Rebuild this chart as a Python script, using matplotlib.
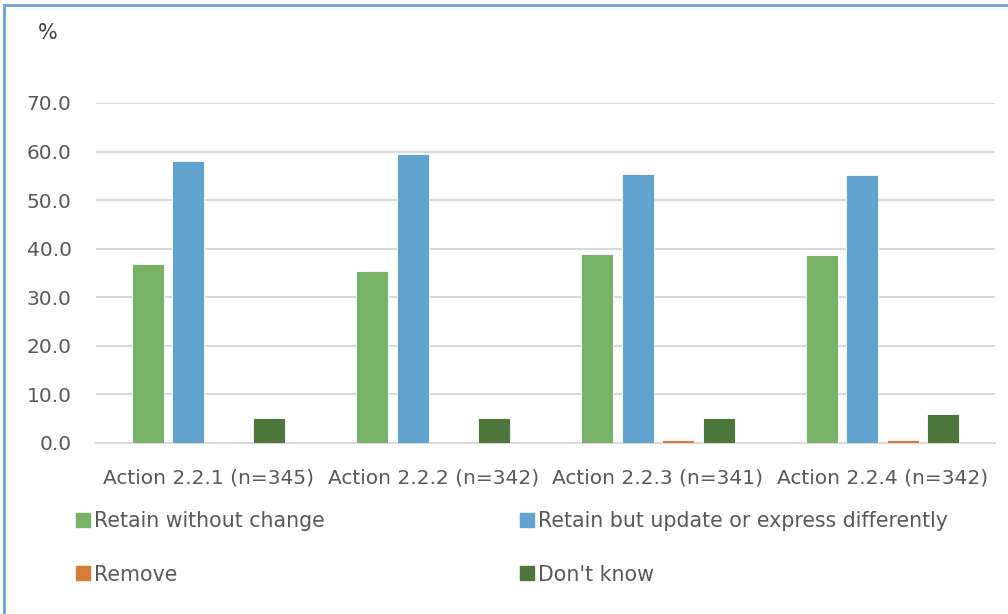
import numpy as np
import matplotlib.pyplot as plt
from matplotlib.patches import Rectangle, Patch

plt.rcParams['font.family'] = ['DejaVu Sans']

categories = ["Action 2.2.1 (n=345)", "Action 2.2.2 (n=342)",
              "Action 2.2.3 (n=341)", "Action 2.2.4 (n=342)"]
retain = [36.9, 35.5, 39.0, 38.7]
update = [58.0, 59.4, 55.4, 55.1]
remove = [0.0, 0.0, 0.6, 0.6]
dont_know = [5.2, 5.2, 5.2, 6.0]

series = [("Retain without change", retain, "#78B266"),
          ("Retain but update or express differently", update, "#62A2CE"),
          ("Remove", remove, "#D87A38"),
          ("Don't know", dont_know, "#4D763D")]

fig = plt.figure(figsize=(10.08, 6.14), dpi=100)
ax = fig.add_axes([96/1008, 1-443/614, (995-96)/1008, (443-103)/614])

x = np.arange(len(categories))
width = 0.142
step = 0.18
for i, (name, vals, col) in enumerate(series):
    ax.bar(x + (i - 1.5)*step, vals, width, color=col, edgecolor="white",
           linewidth=0.6, label=name, zorder=3)

ax.set_xlim(-0.5, len(categories) - 0.5)
ax.set_ylim(0, 70)
ax.set_yticks(np.arange(0, 71, 10))
ax.set_yticklabels([f"{v:.1f}" for v in np.arange(0, 71, 10)])
ax.set_xticks(x)
ax.set_xticklabels(categories)
ax.grid(axis="y", color="#D9D9D9", linewidth=1.5, zorder=0)
for s in ["top", "right", "left"]:
    ax.spines[s].set_visible(False)
ax.spines["bottom"].set_color("#D9D9D9")
ax.spines["bottom"].set_linewidth(1.5)
ax.tick_params(length=0, labelsize=14.5, colors="#595959")
ax.tick_params(axis="y", pad=17.5)
ax.tick_params(axis="x", pad=18)

fig.text(48/1008, 1-33/614, "%", fontsize=15, color="#404040",
         ha="center", va="center")

# legend in two columns
handles = [Patch(color=c) for _, _, c in series]
labels = [n for n, _, _ in series]
kw = dict(frameon=False, fontsize=14.8, handlelength=0.68, handleheight=0.68,
          handletextpad=0.2, labelspacing=1.63, borderpad=0, borderaxespad=0,
          labelcolor="#595959")
fig.legend([handles[0], handles[2]], [labels[0], labels[2]],
           loc="upper left", bbox_to_anchor=(76/1008, 1-511/614), **kw)
fig.legend([handles[1], handles[3]], [labels[1], labels[3]],
           loc="upper left", bbox_to_anchor=(520/1008, 1-511/614), **kw)

# outer frame
fig.patches.append(Rectangle((4/1008, -0.1), 1.2, 1-5/614+0.1,
                             transform=fig.transFigure, fill=False,
                             edgecolor="#6FA3D6", linewidth=2))

fig.savefig("out.png", dpi=100)
